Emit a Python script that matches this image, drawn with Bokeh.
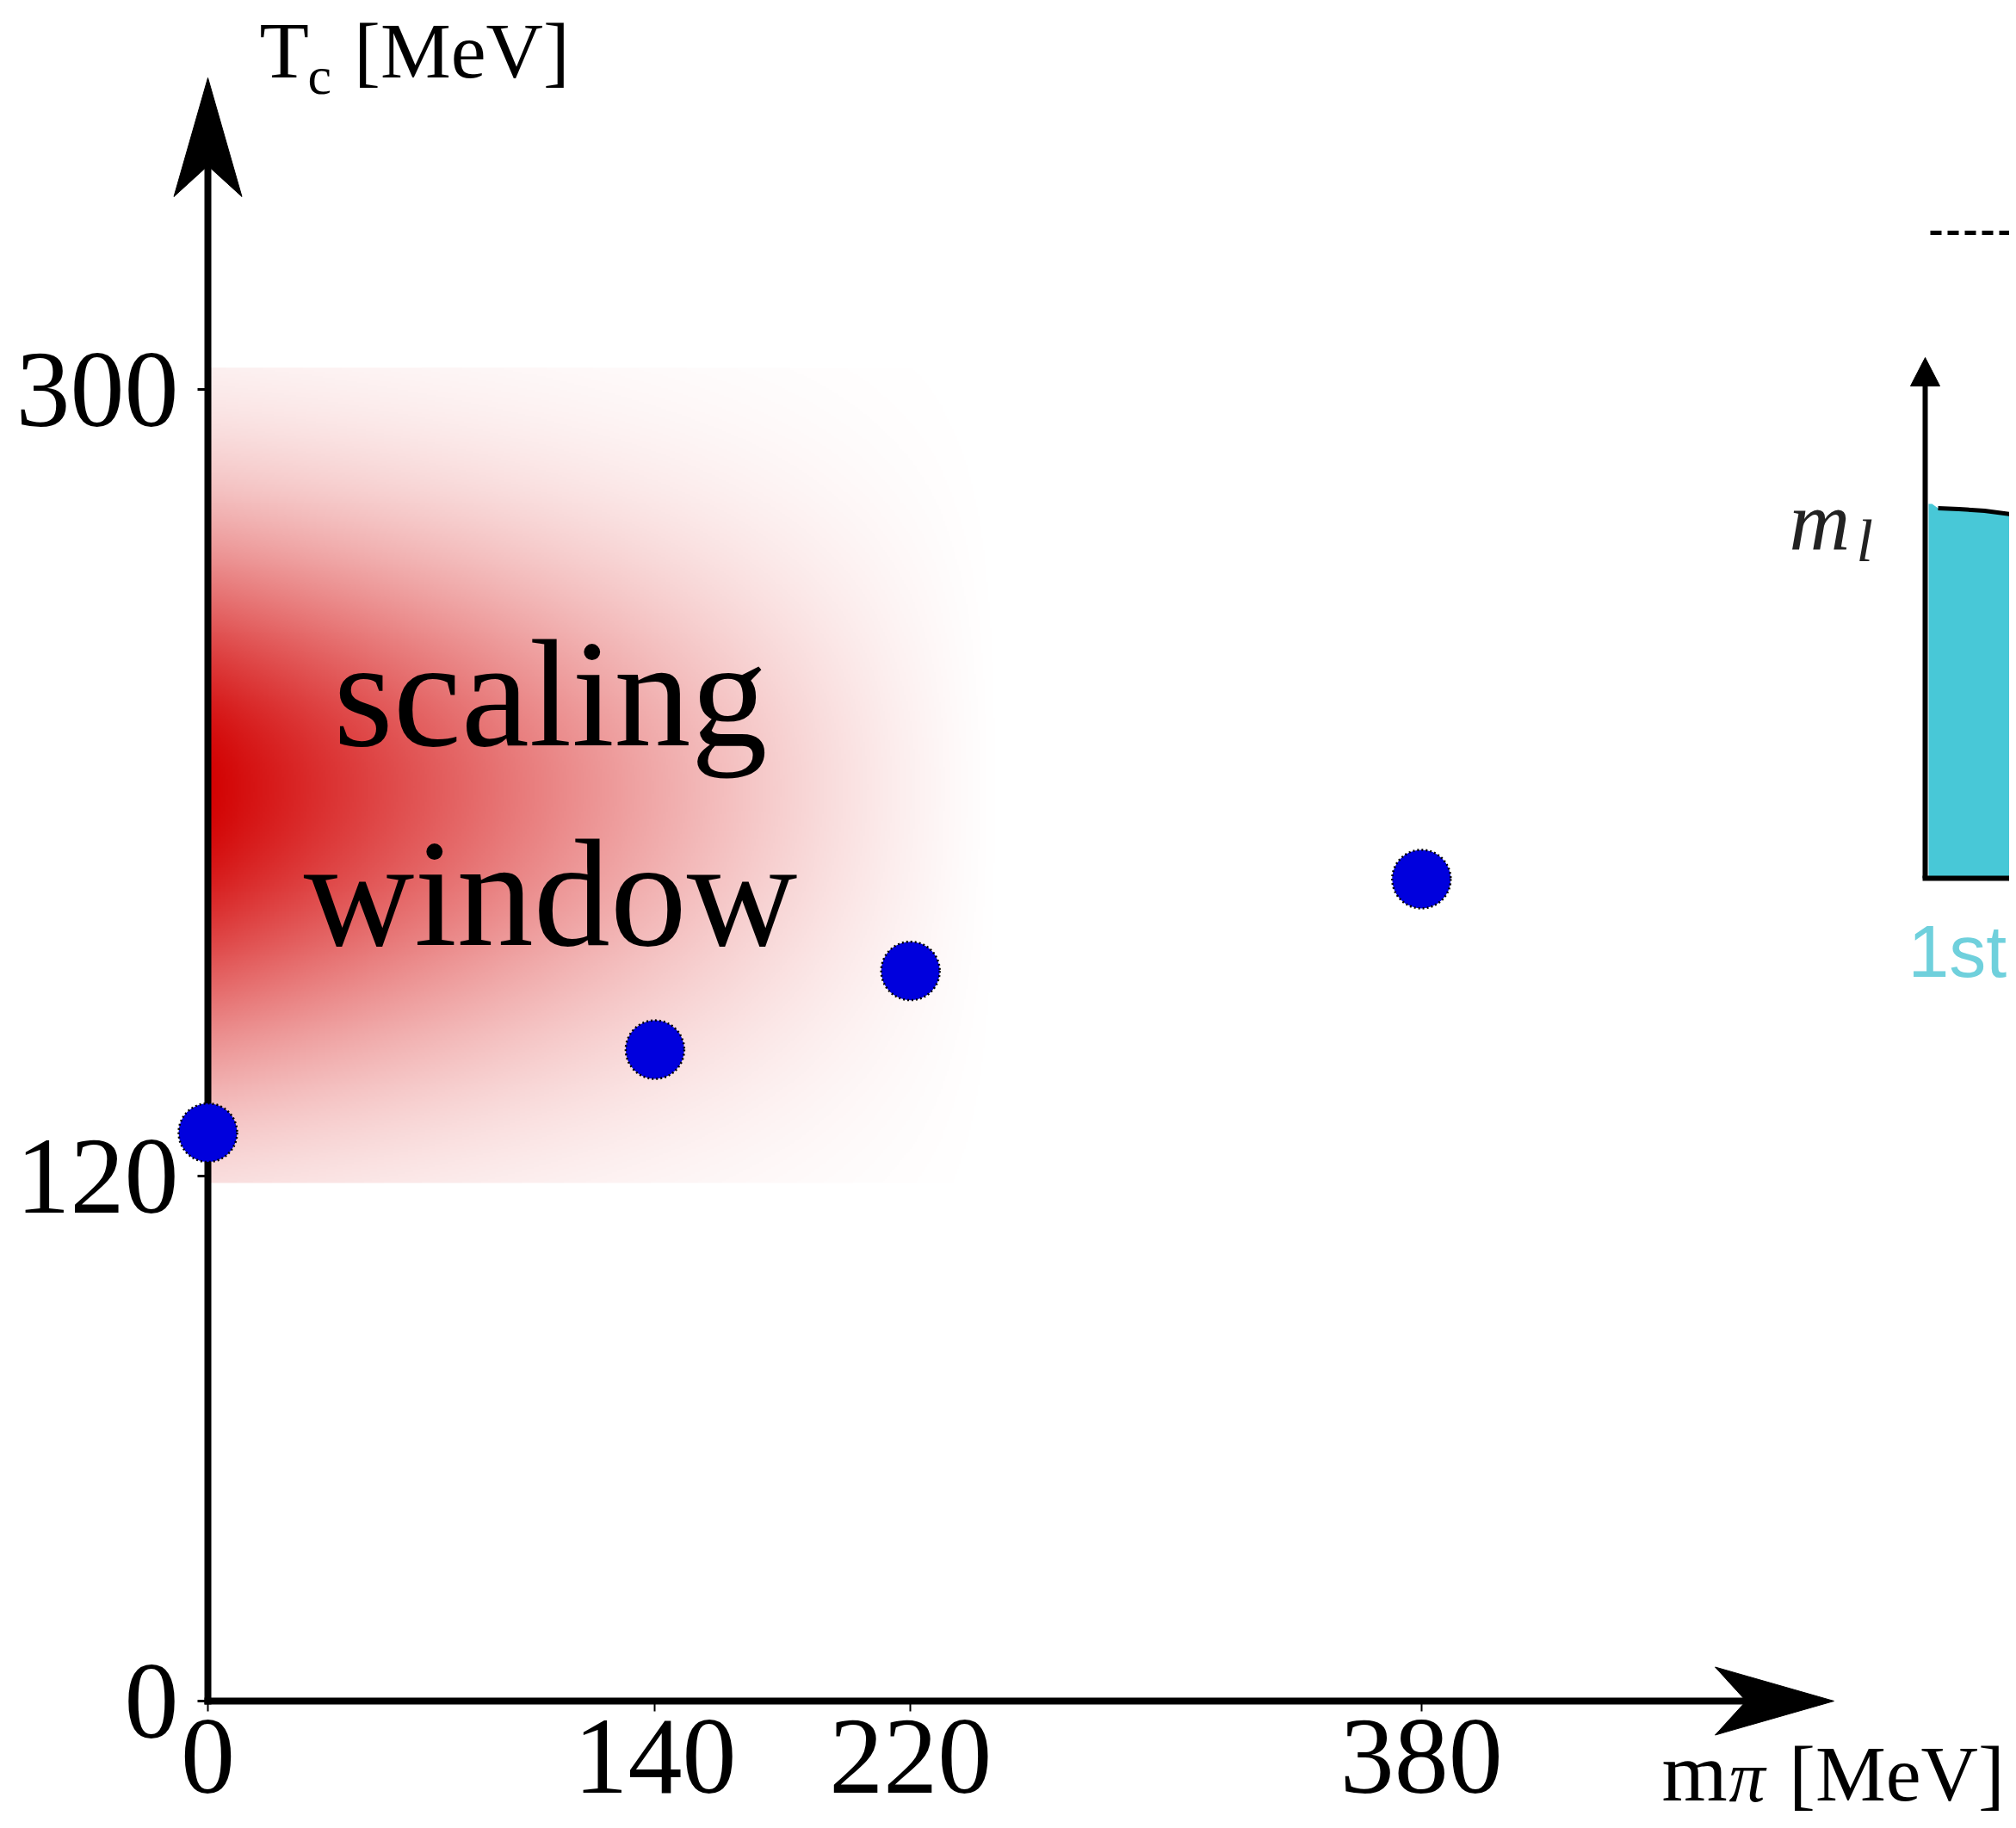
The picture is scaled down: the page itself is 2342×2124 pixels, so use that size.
import numpy as np
from bokeh.plotting import figure
from bokeh.models import Range1d, LinearAxis, FixedTicker
from bokeh.core.properties import value
from bokeh.embed import file_html
from bokeh.resources import INLINE

# ---------------- data ----------------
m_pi = [0, 140, 220, 380]            # pion mass [MeV]
t_c = [130, 149, 167, 188]           # critical temperature [MeV]
x_ticks = [0, 140, 220, 380]
x_tick_labels = ["0", "140", "220", "380"]
y_ticks = [0, 120, 300]
y_tick_labels = ["0", "120", "300"]
window_m = [0, 250]                  # extent of the scaling window in m_pi
window_t = [118.5, 305]              # extent of the scaling window in T
window_centre_t = 209
window_label = ["scaling", "window"]

# ---------------- layout (pixel mapping) ----------------
W, H = 2334, 2116
X0_PX, Y0_PX = 241, 1976             # pixel of the origin
SX, SY = 3.71, 5.08                  # pixels per MeV


def dx(px):
    return px / SX


def dy(px):
    return px / SY


def vx(px):
    return (px - X0_PX) / SX


def vy(px):
    return (Y0_PX - px) / SY


p = figure(width=W, height=H,
           x_range=Range1d(-X0_PX / SX, (W - X0_PX) / SX),
           y_range=Range1d(-(H - Y0_PX) / SY, Y0_PX / SY),
           x_axis_type=None, y_axis_type=None,
           toolbar_location=None, output_backend="svg",
           min_border=0, outline_line_color=None,
           background_fill_color="white", border_fill_color="white")

SERIF = value("Liberation Serif")
MID = 0.34   # distance of the middle anchor above the baseline, in em


def label(px, base_px, txt, size, font=SERIF, style="normal", align="left",
          color="black"):
    p.text(x=[vx(px)], y=[vy(base_px - MID * size)], text=[txt],
           text_font=font, text_font_style=style,
           text_font_size=value(f"{size}px"), text_align=align,
           text_baseline="middle", text_color=color)


# ---------------- scaling window gradient ----------------
nx, ny = 470, 480
gx = np.linspace(window_m[0], window_m[1], nx)
gy = np.linspace(window_t[0], window_t[1], ny)
GX, GY = np.meshgrid(gx, gy)
sigma = np.where(GY >= window_centre_t, 58.0, 64.0)
hy = np.exp(-((GY - window_centre_t) / sigma) ** 2)
hx = np.clip(1.0 - GX / (window_m[1] - window_m[0]), 0, 1) ** 1.3
alpha = hx * hy
img = np.zeros((ny, nx), dtype=np.uint32)
view = img.view(dtype=np.uint8).reshape((ny, nx, 4))
view[..., 0] = 210
view[..., 1] = 0
view[..., 2] = 0
view[..., 3] = (alpha * 255).astype(np.uint8)
p.image_rgba(image=[img], x=window_m[0], y=window_t[0],
             dw=window_m[1] - window_m[0], dh=window_t[1] - window_t[0])

label(639, 866, window_label[0], 178, align="center")
label(639, 1098, window_label[1], 178, align="center")

# ---------------- axes ----------------
HEAD_LEN, HEAD_HALF, NOTCH = 138, 39.5, 102
y_tip = vy(90)
x_tip = vx(2130)

yaxis = LinearAxis(fixed_location=0, bounds=(0, y_tip - dy(NOTCH)),
                   ticker=FixedTicker(ticks=y_ticks),
                   major_label_overrides=dict(zip(y_ticks, y_tick_labels)))
xaxis = LinearAxis(fixed_location=0, bounds=(0, x_tip - dx(NOTCH)),
                   ticker=FixedTicker(ticks=x_ticks),
                   major_label_overrides=dict(zip(x_ticks, x_tick_labels)))
for ax, tw, st in ((yaxis, 3, 22), (xaxis, 2, 10)):
    ax.axis_line_width = 8
    ax.axis_line_color = "black"
    ax.axis_line_cap = "square"
    ax.major_tick_in = 0
    ax.major_tick_out = 12
    ax.major_tick_line_width = tw
    ax.major_tick_line_color = "black"
    ax.minor_tick_line_color = None
    ax.major_label_text_font = "Liberation Serif"
    ax.major_label_text_font_size = "126px"
    ax.major_label_text_color = "black"
    ax.major_label_standoff = st
p.add_layout(yaxis, "left")
p.add_layout(xaxis, "below")

p.patch([0, dx(HEAD_HALF), 0, -dx(HEAD_HALF)],
        [y_tip, y_tip - dy(HEAD_LEN), y_tip - dy(NOTCH), y_tip - dy(HEAD_LEN)],
        fill_color="black", line_color="black", line_width=1)
p.patch([x_tip, x_tip - dx(HEAD_LEN), x_tip - dx(NOTCH), x_tip - dx(HEAD_LEN)],
        [0, dy(HEAD_HALF), 0, -dy(HEAD_HALF)],
        fill_color="black", line_color="black", line_width=1)

# axis titles with subscripts
label(301, 89, "T", 94)
label(357, 109, "c", 62)
label(536, 90, "[MeV]", 92, align="center")

label(1930, 2092, "m", 98)
label(2008, 2093, "π", 84, style="italic")
label(2203, 2092, "[MeV]", 92, align="center")

# ---------------- data points ----------------
pts = p.scatter(m_pi, t_c, size=68, marker="circle", fill_color="#0000DD",
                line_color="black", line_width=2.5, line_dash="2 3")
pts.level = "overlay"

# ---------------- inset fragment (right edge) ----------------
ix = vx(2236)
ibase = vy(1020)
right = vx(2400)
p.line([vx(2242), right], [vy(270), vy(270)], line_color="black",
       line_width=5, line_dash="13 7")
curve_x = [vx(2244), vx(2251), vx(2275), vx(2305), vx(2342), right]
curve_y = [vy(585), vy(590), vy(591), vy(593), vy(598), vy(602)]
p.patch([vx(2240)] + curve_x + [right, vx(2240)],
        [vy(585)] + curve_y + [ibase, ibase],
        fill_color="#48C8D7", line_color=None)
p.line(curve_x[1:], curve_y[1:], line_color="black", line_width=5)
p.line([ix, ix], [ibase, vy(440)], line_color="black", line_width=6)
p.line([ix - dx(3), right], [ibase, ibase], line_color="black", line_width=6)
p.patch([ix, ix - dx(17), ix + dx(17)], [vy(415), vy(448), vy(448)],
        fill_color="black", line_color="black")
label(2078, 638, "m", 98, style="italic", color="#222222")
label(2156, 652, "l", 70, style="italic", color="#222222")
label(2216, 1134, "1st", 86, font=value("Liberation Sans"), color="#6FD0DC")

open("out.html", "w").write(file_html(p, INLINE))
